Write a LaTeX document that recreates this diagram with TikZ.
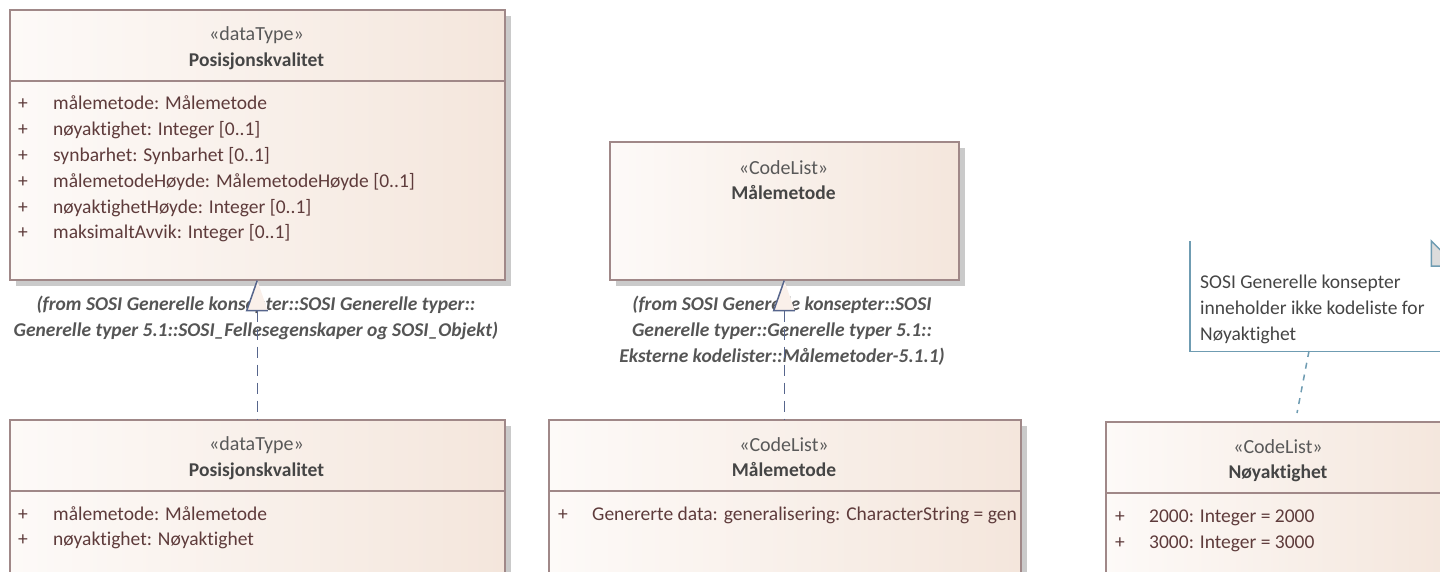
\documentclass[tikz,border=0pt]{standalone}
\usepackage{fontspec}
\setmainfont{Carlito}[Ligatures={NoCommon}]
\usetikzlibrary{shadows}
\definecolor{boxleft}{HTML}{FDFAF8}
\definecolor{boxright}{HTML}{F4E6DC}
\definecolor{boxborder}{HTML}{A08888}
\definecolor{shadowc}{HTML}{CACACA}
\definecolor{stereoc}{HTML}{595959}
\definecolor{namec}{HTML}{454545}
\definecolor{attrc}{HTML}{5E3B3B}
\definecolor{labelc}{HTML}{555555}
\definecolor{connc}{HTML}{56658C}
\definecolor{notec}{HTML}{6F9CB2}
\definecolor{foldc}{HTML}{DCDCDC}
\definecolor{trifill}{HTML}{FAF0EA}
\begin{document}
\begin{tikzpicture}[x=1pt,y=-1pt,
  umlbox/.style={draw=boxborder, line width=1.5pt, left color=boxleft, right color=boxright,
    drop shadow={shadow xshift=6pt, shadow yshift=-6pt, fill=shadowc, opacity=1},
    inner sep=0pt, anchor=north west},
  sep/.style={draw=boxborder, line width=1.5pt},
  txt/.style={inner sep=0pt, yshift=-4pt, font=\fontsize{19.5}{24}\selectfont},
  stereo/.style={txt, text=stereoc, anchor=mid, font=\fontsize{20}{24}\selectfont},
  cname/.style={txt, text=namec, anchor=mid, font=\fontsize{19.5}{24}\selectfont\bfseries},
  attr/.style={txt, text=attrc, anchor=mid west},
  plus/.style={txt, text=attrc, anchor=mid},
  fromlbl/.style={inner sep=0pt, text=labelc, anchor=center, align=center,
    font=\fontsize{19.5}{26}\selectfont\bfseries\itshape},
  notetxt/.style={inner sep=0pt, text=namec, anchor=north west, align=left,
    font=\fontsize{19.5}{26}\selectfont},
  realize/.style={draw=connc, line width=1.5pt, dash pattern=on 11pt off 7pt},
  notelink/.style={draw=notec, line width=1.5pt, dash pattern=on 6pt off 6pt},
  trihead/.style={fill=trifill},
  triedge/.style={draw=connc, line width=1.5pt},
  noteline/.style={draw=notec, line width=1.5pt}
]
\useasboundingbox (0,0) rectangle (1440,571);
\clip (0,0) rectangle (1440,571);

% ---------------- Box 1: Posisjonskvalitet (top) ----------------
\node[umlbox, minimum width=495pt, minimum height=270pt] (b1) at (9,9) {};
\draw[sep] (b1.west |- 0,81) -- (b1.east |- 0,81);
\node[stereo] (b1s) at (256.5,34) {«dataType»};
\node[cname] (b1n) at (256.5,60) {Posisjonskvalitet};
\foreach \y/\t [count=\i] in {103/{målemetode: Målemetode},
  129/{nøyaktighet: Integer [0..1]},
  155/{synbarhet: Synbarhet [0..1]},
  181/{målemetodeHøyde: MålemetodeHøyde [0..1]},
  207/{nøyaktighetHøyde: Integer [0..1]},
  232/{maksimaltAvvik: Integer [0..1]}}{
  \node[plus] (b1p\i) at (23,\y) {+};
  \node[attr] (b1a\i) at (53,\y) {\t};
}

% ---------------- Box 2: Posisjonskvalitet (bottom) ----------------
\node[umlbox, minimum width=495pt, minimum height=200pt] (b2) at (9,419) {};
\draw[sep] (b2.west |- 0,491) -- (b2.east |- 0,491);
\node[stereo] (b2s) at (256.5,444) {«dataType»};
\node[cname] (b2n) at (256.5,470) {Posisjonskvalitet};
\node[plus] (b2p1) at (23,514) {+};
\node[attr] (b2a1) at (53,514) {målemetode: Målemetode};
\node[plus] (b2p2) at (23,539) {+};
\node[attr] (b2a2) at (53,539) {nøyaktighet: Nøyaktighet};

% ---------------- Box 3: Målemetode (top) ----------------
\node[umlbox, minimum width=349pt, minimum height=138pt] (b3) at (609,141) {};
\node[stereo] (b3s) at (783.5,168) {«CodeList»};
\node[cname] (b3n) at (783.5,193) {Målemetode};

% ---------------- Box 4: Målemetode (bottom) ----------------
\node[umlbox, minimum width=472pt, minimum height=200pt] (b4) at (548,419) {};
\draw[sep] (b4.west |- 0,491) -- (b4.east |- 0,491);
\node[stereo] (b4s) at (784,445) {«CodeList»};
\node[cname] (b4n) at (784,470) {Målemetode};
\node[plus] (b4p1) at (563,514) {+};
\node[attr] (b4a1) at (592,514) {Genererte data: generalisering: CharacterString = gen};

% ---------------- Box 5: Nøyaktighet ----------------
\node[umlbox, minimum width=346pt, minimum height=200pt] (b5) at (1105,421) {};
\draw[sep] (b5.west |- 0,493) -- (b5.east |- 0,493);
\node[stereo] (b5s) at (1278,447) {«CodeList»};
\node[cname] (b5n) at (1278,472) {Nøyaktighet};
\node[plus] (b5p1) at (1120,516) {+};
\node[attr] (b5a1) at (1149,516) {2000: Integer = 2000};
\node[plus] (b5p2) at (1120,542) {+};
\node[attr] (b5a2) at (1149,542) {3000: Integer = 3000};

% ---------------- "from" labels ----------------
\node[fromlbl] (l1) at (256,318) {(from SOSI Generelle konsepter::SOSI Generelle typer::\\Generelle typer 5.1::SOSI\_Fellesegenskaper og SOSI\_Objekt)};
\node[fromlbl] (l2) at (782,331) {(from SOSI Generelle konsepter::SOSI\\Generelle typer::Generelle typer 5.1::\\Eksterne kodelister::Målemetoder-5.1.1)};

% ---------------- Realization 1 ----------------
\coordinate (t1) at (b1.south);
\coordinate (t1l) at ([xshift=-10.5pt, yshift=-30pt]t1);
\coordinate (t1r) at ([xshift=10.5pt, yshift=-30pt]t1);
\coordinate (t1b) at ([yshift=-30pt]t1);
\fill[trihead] (t1) -- (t1l) -- (t1r) -- cycle;
\draw[triedge] (t1r) -- (t1l) -- (t1);
\draw[realize] (t1b) -- (b2.north);

% ---------------- Realization 2 ----------------
\coordinate (t2) at (b3.south);
\coordinate (t2l) at ([xshift=-10.5pt, yshift=-30pt]t2);
\coordinate (t2r) at ([xshift=10.5pt, yshift=-30pt]t2);
\coordinate (t2b) at ([yshift=-30pt]t2);
\fill[trihead] (t2) -- (t2l) -- (t2r) -- cycle;
\draw[triedge] (t2r) -- (t2l) -- (t2);
\draw[realize] (t2b) -- (t2b |- b4.north);

% ---------------- Note ----------------
\node[inner sep=0pt, minimum width=266pt, minimum height=110pt, anchor=north west] (note) at (1190,241) {};
\draw[noteline] (note.north west) -- (note.south west) -- (note.south east) -- ([yshift=-25pt]note.north east);
\coordinate (fa) at ([xshift=-25pt]note.north east);
\coordinate (fb) at ([xshift=-25pt, yshift=-25pt]note.north east);
\coordinate (fc) at ([yshift=-25pt]note.north east);
\filldraw[fill=foldc, draw=notec, line width=1.5pt] (fa) -- (fb) -- (fc) -- cycle;
\node[notetxt] (nt) at (1200,275) {SOSI Generelle konsepter\\inneholder ikke kodeliste for\\Nøyaktighet};
\coordinate (nl1) at (1309,351);
\coordinate (nl2) at (1297,413);
\draw[notelink] (nl1) -- (nl2);
\end{tikzpicture}
\end{document}
